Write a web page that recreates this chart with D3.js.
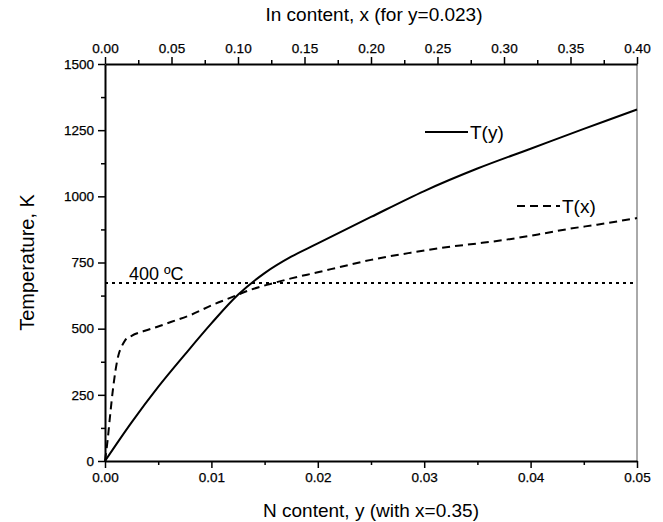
<!DOCTYPE html>
<html>
<head>
<meta charset="utf-8">
<script src="https://cdn.jsdelivr.net/npm/d3@7"></script>
<style>
  body { margin: 0; background: #fff; }
  text { font-family: "Liberation Sans", Arial, sans-serif; fill: #000; }
</style>
</head>
<body>
<div id="container"></div>
<script>
// N content y (bottom axis) vs temperature for the T(y) curve
const nContent = [0, 0.0025, 0.005, 0.0075, 0.01, 0.0125, 0.015, 0.0175, 0.02, 0.025, 0.03, 0.035, 0.04, 0.045, 0.05];
const tOfY = [0, 146, 280, 402, 520, 628, 710, 772, 822, 922, 1020, 1105, 1180, 1255, 1328];

// In content x (top axis) vs temperature for the T(x) curve
const inContent = [0, 0.002, 0.004, 0.006, 0.008, 0.01, 0.0125, 0.015, 0.02, 0.03, 0.04, 0.05, 0.065, 0.08, 0.095, 0.11, 0.125, 0.14, 0.16, 0.18, 0.2, 0.23, 0.26, 0.28, 0.3, 0.33, 0.35, 0.37, 0.4];
const tOfX = [0, 80, 180, 272, 345, 398, 432, 455, 473, 492, 508, 526, 553, 588, 618, 648, 670, 690, 713, 737, 760, 787, 810, 822, 835, 860, 878, 893, 918];

const bottomTicks = [0, 0.01, 0.02, 0.03, 0.04, 0.05];
const topTicks = [0, 0.05, 0.1, 0.15, 0.2, 0.25, 0.3, 0.35, 0.4];
const leftTicks = [0, 250, 500, 750, 1000, 1250, 1500];
const tRef = 673; // 400 ºC

const width = 663, height = 522;
const margin = {left: 105, right: 26, top: 64, bottom: 61};

const svg = d3.select("#container").append("svg")
  .attr("width", width)
  .attr("height", height);

const xBottom = d3.scaleLinear().domain([0, 0.05]).range([margin.left, width - margin.right]);
const xTop = d3.scaleLinear().domain([0, 0.4]).range([margin.left, width - margin.right]);
const yScale = d3.scaleLinear().domain([0, 1500]).range([height - margin.bottom, margin.top]);

// minor ticks halfway between the majors
const mids = arr => arr.slice(1).map((v, i) => (v + arr[i]) / 2);

function styleAxis(g) {
  g.select(".domain").attr("stroke-width", 2);
  g.selectAll(".tick line").attr("stroke-width", 1.5);
  g.selectAll(".tick text").attr("font-size", 13.5).attr("font-family", "Liberation Sans, Arial, sans-serif")
    .attr("stroke", "#000").attr("stroke-width", 0.25);
}

// right border
svg.append("line")
  .attr("x1", xBottom(0.05)).attr("x2", xBottom(0.05))
  .attr("y1", yScale(0)).attr("y2", yScale(1500))
  .attr("stroke", "#555").attr("stroke-width", 1);

// bottom axis
svg.append("g")
  .attr("transform", `translate(0,${yScale(0)})`)
  .call(d3.axisBottom(xBottom).tickValues(mids(bottomTicks)).tickSize(4).tickFormat("").tickSizeOuter(0))
  .call(g => g.select(".domain").remove())
  .selectAll("line").attr("stroke-width", 1.5);
svg.append("g")
  .attr("transform", `translate(0,${yScale(0)})`)
  .call(d3.axisBottom(xBottom).tickValues(bottomTicks).tickSize(7).tickSizeOuter(0).tickPadding(4).tickFormat(d3.format(".2f")))
  .call(styleAxis);

// top axis
svg.append("g")
  .attr("transform", `translate(0,${yScale(1500)})`)
  .call(d3.axisTop(xTop).tickValues(mids(topTicks)).tickSize(4).tickFormat("").tickSizeOuter(0))
  .call(g => g.select(".domain").remove())
  .selectAll("line").attr("stroke-width", 1.5);
svg.append("g")
  .attr("transform", `translate(0,${yScale(1500)})`)
  .call(d3.axisTop(xTop).tickValues(topTicks).tickSize(7).tickSizeOuter(0).tickPadding(4).tickFormat(d3.format(".2f")))
  .call(styleAxis);

// left axis
svg.append("g")
  .attr("transform", `translate(${margin.left},0)`)
  .call(d3.axisLeft(yScale).tickValues(mids(leftTicks)).tickSize(4).tickFormat("").tickSizeOuter(0))
  .call(g => g.select(".domain").remove())
  .selectAll("line").attr("stroke-width", 1.5);
svg.append("g")
  .attr("transform", `translate(${margin.left},0)`)
  .call(d3.axisLeft(yScale).tickValues(leftTicks).tickSize(7).tickSizeOuter(0).tickPadding(4).tickFormat(d3.format("d")))
  .call(styleAxis);

// axis titles
svg.append("text")
  .attr("x", 371).attr("y", 517)
  .attr("text-anchor", "middle").attr("font-size", 19)
  .text("N content, y (with x=0.35)");
svg.append("text")
  .attr("x", 374).attr("y", 21)
  .attr("text-anchor", "middle").attr("font-size", 19)
  .text("In content, x (for y=0.023)");
svg.append("text")
  .attr("transform", `translate(34,${(margin.top + height - margin.bottom) / 2}) rotate(-90)`)
  .attr("text-anchor", "middle").attr("font-size", 20)
  .text("Temperature, K");

// 400 ºC reference line
svg.append("line")
  .attr("x1", xBottom(0)).attr("x2", xBottom(0.05))
  .attr("y1", yScale(tRef)).attr("y2", yScale(tRef))
  .attr("stroke", "#000").attr("stroke-width", 2).attr("stroke-dasharray", "3,4");
svg.append("text")
  .attr("x", 129).attr("y", yScale(tRef) - 3)
  .attr("font-size", 18)
  .text("400 ºC");

// curves
const lineY = d3.line()
  .x((d, i) => xBottom(nContent[i]))
  .y(d => yScale(d))
  .curve(d3.curveCatmullRom.alpha(0.5));
const lineX = d3.line()
  .x((d, i) => xTop(inContent[i]))
  .y(d => yScale(d))
  .curve(d3.curveMonotoneX);

svg.append("path")
  .attr("d", lineX(tOfX))
  .attr("fill", "none").attr("stroke", "#000").attr("stroke-width", 2)
  .attr("stroke-dasharray", "8,5");
svg.append("path")
  .attr("d", lineY(tOfY))
  .attr("fill", "none").attr("stroke", "#000").attr("stroke-width", 2);

// legend
svg.append("line")
  .attr("x1", 425).attr("x2", 468).attr("y1", 132).attr("y2", 132)
  .attr("stroke", "#000").attr("stroke-width", 2);
svg.append("text").attr("x", 470).attr("y", 139).attr("font-size", 19).text("T(y)");
svg.append("line")
  .attr("x1", 517).attr("x2", 560).attr("y1", 206).attr("y2", 206)
  .attr("stroke", "#000").attr("stroke-width", 2).attr("stroke-dasharray", "8,5");
svg.append("text").attr("x", 562).attr("y", 213).attr("font-size", 19).text("T(x)");
</script>
</body>
</html>
